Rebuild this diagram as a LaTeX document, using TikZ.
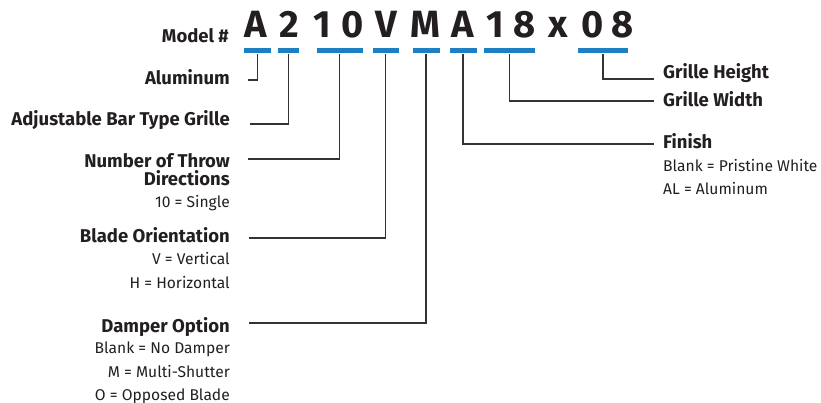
\documentclass[tikz,border=0pt]{standalone}
\usepackage{fontspec}
\setmainfont{Fira Sans}
\definecolor{ink}{HTML}{231F20}
\definecolor{wire}{HTML}{333333}
\definecolor{barblue}{HTML}{1C80C2}
\tikzset{
  code/.style={anchor=base,inner sep=0,text=ink,font=\fontsize{38}{42}\selectfont\bfseries},
  title/.style={inner sep=0,text=ink,font=\fontsize{18.5}{21}\selectfont\bfseries},
  sub/.style={inner sep=0,text=ink,font=\fontsize{15.6}{18}\selectfont},
  bar/.style={fill=barblue,inner sep=0,minimum height=5,anchor=center},
  lead/.style={draw=wire,line width=1.3pt}
}
\begin{document}
\begin{tikzpicture}[x=1pt,y=-1pt]
\useasboundingbox (0,0) rectangle (821,403);
% model number
\node[title,anchor=base east] (model) at (229,43) {Model \#};
\node[code] (c1) at (256,38) {A};
\node[code] (c2) at (289,38) {2};
\node[code] (c3) at (322,38) {1};
\node[code] (c4) at (353,38) {0};
\node[code] (c5) at (386,38) {V};
\node[code] (c6) at (425,38) {M};
\node[code] (c7) at (463,38) {A};
\node[code] (c8) at (495,38) {1};
\node[code] (c9) at (525,38) {8};
\node[code] (c10) at (558,38) {x};
\node[code] (c11) at (593,38) {0};
\node[code] (c12) at (623,38) {8};
% bars
\node[bar,minimum width=27] (b1) at (257.5,51) {};
\node[bar,minimum width=21] (b2) at (288.5,51) {};
\node[bar,minimum width=46] (b3) at (339.5,51) {};
\node[bar,minimum width=26] (b4) at (385.5,51) {};
\node[bar,minimum width=27] (b5) at (426,51) {};
\node[bar,minimum width=27] (b6) at (463,51) {};
\node[bar,minimum width=51] (b7) at (509.5,51) {};
\node[bar,minimum width=50] (b8) at (603,51) {};
% left labels
\node[title,anchor=base east] (lalu) at (230,85) {Aluminum};
\node[title,anchor=base east] (lbar) at (230,126) {Adjustable Bar Type Grille};
\node[title,anchor=base east] (lthrow) at (230,168) {Number of Throw};
\node[title,anchor=base east] (lthrow2) at (230,186) {Directions};
\node[sub,anchor=base east] (sthrow) at (230,208) {10 = Single};
\node[title,anchor=base east] (lblade) at (230,243) {Blade Orientation};
\node[sub,anchor=base east] (sblade1) at (230,264) {V = Vertical};
\node[sub,anchor=base east] (sblade2) at (230,288) {H = Horizontal};
\node[title,anchor=base east] (ldamp) at (230,332) {Damper Option};
\node[sub,anchor=base east] (sdamp1) at (230,353) {Blank = No Damper};
\node[sub,anchor=base east] (sdamp2) at (230,377) {M = Multi-Shutter};
\node[sub,anchor=base east] (sdamp3) at (230,400) {O = Opposed Blade};
% right labels
\node[title,anchor=base west] (lhgt) at (663,79) {Grille Height};
\node[title,anchor=base west] (lwid) at (663,107) {Grille Width};
\node[title,anchor=base west] (lfin) at (663,149) {Finish};
\node[sub,anchor=base west] (sfin1) at (663,172) {Blank = Pristine White};
\node[sub,anchor=base west] (sfin2) at (663,195) {AL = Aluminum};
% leader ends
\coordinate (e1) at (248,80);
\coordinate (e2) at (250,124);
\coordinate (e3) at (248,159);
\coordinate (e4) at (249,238);
\coordinate (e5) at (249,323);
\coordinate (e6) at (654,144);
\coordinate (e7) at (654,101);
\coordinate (e8) at (654,79);
% leaders
\draw[lead] (b1.south) |- (e1);
\draw[lead] (b2.south) |- (e2);
\draw[lead] (b3.south) |- (e3);
\draw[lead] (b4.south) |- (e4);
\draw[lead] (b5.south) |- (e5);
\draw[lead] (b6.south) |- (e6);
\draw[lead] (b7.south) |- (e7);
\draw[lead] (b8.south) |- (e8);
\end{tikzpicture}
\end{document}
